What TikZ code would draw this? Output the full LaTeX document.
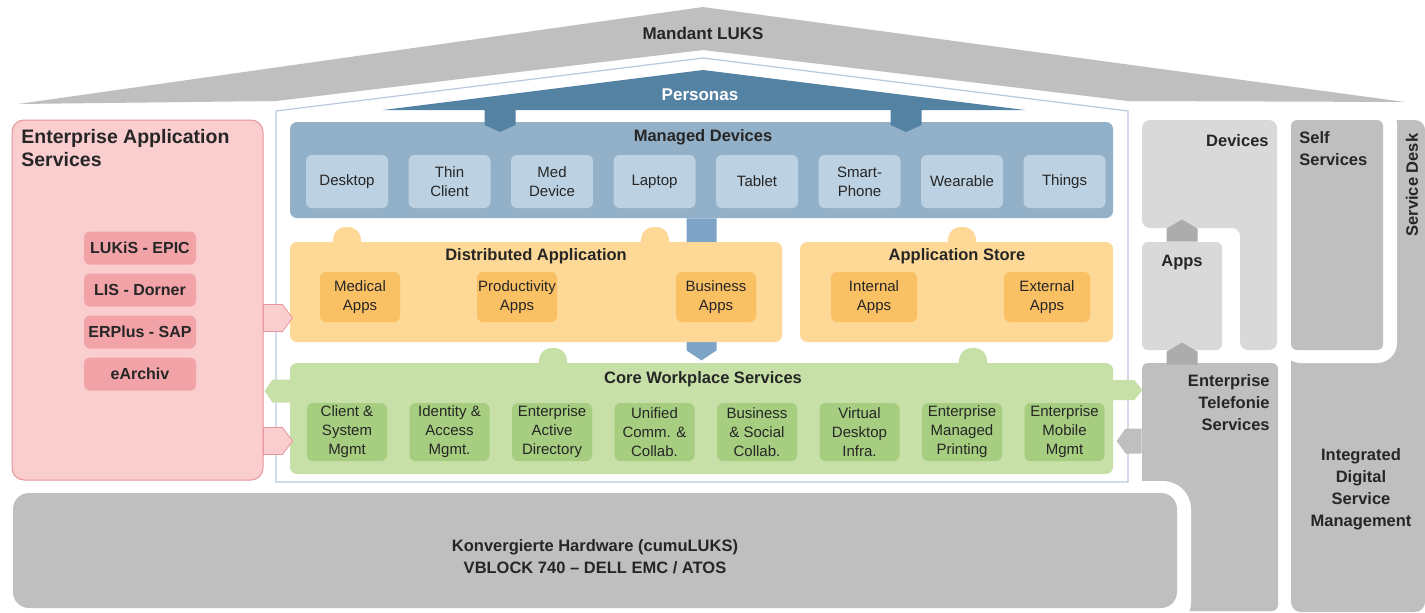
\documentclass[tikz,border=0pt]{standalone}
\usepackage{fontspec}
\setmainfont{Liberation Sans}
\usetikzlibrary{positioning}

\definecolor{ink}{RGB}{38,38,38}
\definecolor{roofgrey}{RGB}{191,191,191}
\definecolor{persblue}{RGB}{84,130,163}
\definecolor{mdfill}{RGB}{146,176,199}
\definecolor{devfill}{RGB}{188,209,225}
\definecolor{stemblue}{RGB}{125,163,198}
\definecolor{dafill}{RGB}{253,216,150}
\definecolor{appfill}{RGB}{250,192,100}
\definecolor{cwfill}{RGB}{198,224,168}
\definecolor{corefill}{RGB}{166,205,128}
\definecolor{pinkfill}{RGB}{250,205,207}
\definecolor{pinkline}{RGB}{232,150,156}
\definecolor{pinkitem}{RGB}{241,163,168}
\definecolor{greylight}{RGB}{217,217,217}
\definecolor{greymid}{RGB}{191,191,191}
\definecolor{arrowgrey}{RGB}{172,172,172}
\definecolor{frameline}{RGB}{185,200,222}

\begin{document}
\begin{tikzpicture}[
        x = 0.5pt, y = -0.5pt, % one unit = one pixel of the sketch
        node distance = 51.25pt, % distance between box centres
        every node/.style = {inner sep = 0pt, text = ink, align = center},
        small/.style = {font = \fontsize{7.5}{9.5}\selectfont},
        head/.style = {font = \bfseries\fontsize{8.25}{11}\selectfont},
        panel/.style = {rounded corners = 3.5pt, minimum height = 50pt},
        subbox/.style = {small, rounded corners = 3pt, minimum width = 40pt}
    ]

    \tikzstyle{devbox}=[subbox, fill = devfill, minimum width = 41pt, minimum height = 26.5pt]
    \tikzstyle{appbox}=[subbox, fill = appfill, minimum height = 25pt]
    \tikzstyle{corebox}=[subbox, fill = corefill, minimum height = 29pt]
    \tikzstyle{easitem}=[fill = pinkitem, rounded corners = 3pt, minimum width = 56pt,
        minimum height = 16.5pt, font = \bfseries\fontsize{8}{10}\selectfont]
    \tikzstyle{greybox}=[rounded corners = 3pt]

    \useasboundingbox (0,0) rectangle (1425,612);
    \fill[white] (0,0) rectangle (1425,612);

    % service desk, self services
    \fill[greymid, rounded corners = 5pt] (1291,612) -- (1291,120) -- (1425,120) -- (1425,612) -- cycle;
    \fill[white, rounded corners = 10pt] (1281,104) rectangle (1397,363);
    \node[greybox, fill = greymid, minimum width = 46pt, minimum height = 115pt] (selfserv) at (1337,235) {};
    \node[head, anchor = north west, align = left] (selftext) at (1299,131) {Self\\Services};
    \node[head, rotate = 90] (servicedesk) at (1412,185) {Service Desk};
    \node[head] (idsm) at (1361,489) {Integrated\\Digital\\Service\\Management};

    % roof
    \fill[roofgrey] (18,104) -- (703,7) -- (1405,102) -- (1128,101) -- (703,50) -- (276,101) -- cycle;
    \node[head, font = \bfseries\fontsize{8.5}{10}\selectfont] (mandant) at (703,33) {Mandant LUKS};

    % telefonie and hardware
    \node[greybox, fill = greymid, minimum width = 68pt, minimum height = 124pt] (telefonie) at (1210,487) {};
    \node[head, anchor = north east, align = right] (teltext) at (1270,374) {Enterprise\\Telefonie\\Services};
    \fill[white, rounded corners = 14pt] (-10,481) rectangle (1191,630);
    \node[panel, fill = greymid, rounded corners = 8pt, minimum width = 582pt, minimum height = 57.5pt] (hardware) at (595,550.5) {};
    \node[head] (hwtext) at (595,557) {Konvergierte Hardware (cumuLUKS)\\VBLOCK 740 -- DELL EMC / ATOS};

    % devices and apps
    \fill[greylight, rounded corners = 4pt] (1142,120) -- (1277,120) -- (1277,350) -- (1240,350) -- (1240,228) -- (1142,228) -- cycle;
    \node[head, anchor = east] (devices) at (1269,141) {Devices};
    \node[greybox, fill = greylight, minimum width = 40pt, minimum height = 54pt] (apps) at (1182,296) {};
    \node[head] (appstext) at (1182,263) {Apps};
    \fill[arrowgrey] (apps.north) ++(-15.5,0) -- ++(0,-13) -- ++(15.5,-9) -- ++(15.5,9) -- ++(0,13) -- cycle;
    \fill[arrowgrey] (apps.south |- telefonie.north) ++(-15.5,2) -- ++(0,-13) -- ++(15.5,-9) -- ++(15.5,9) -- ++(0,13) -- cycle;

    % house frame
    \filldraw[fill = white, draw = frameline, line width = 0.6pt] (276,482) -- (276,111) -- (703,58) -- (1128,111) -- (1128,482) -- cycle;

    % personas
    \fill[persblue] (383,110) -- (703,70) -- (1025,110) -- cycle;
    \node[head, text = white, font = \bfseries\fontsize{8.5}{10}\selectfont] (personas) at (700,95) {Personas};

    % managed devices
    \node[panel, fill = mdfill, minimum width = 411.5pt, minimum height = 48pt] (managed) at (701.5,170) {};
    \fill[stemblue] (managed.south) ++(-15,0) -- ++(30,0) -- ++(0,132) -- ++(-15,10) -- ++(-15,-10) -- cycle;
    \fill[persblue] (484.5,108) -- (515.5,108) -- (515.5,125) -- (500,132) -- (484.5,125) -- cycle;
    \fill[persblue] (890.5,108) -- (921.5,108) -- (921.5,125) -- (906,132) -- (890.5,125) -- cycle;
    \node[head] (mdtitle) at (703,137) {Managed Devices};
    \node[devbox] (desktop) at (347,181.5) {Desktop};
    \node[devbox, right of = desktop] (thinclient) {Thin\\Client};
    \node[devbox, right of = thinclient] (meddevice) {Med\\Device};
    \node[devbox, right of = meddevice] (laptop) {Laptop};
    \node[devbox, right of = laptop] (tablet) {Tablet};
    \node[devbox, right of = tablet] (smartphone) {Smart-\\Phone};
    \node[devbox, right of = smartphone] (wearable) {Wearable};
    \node[devbox, right of = wearable] (things) {Things};

    % distributed application, application store
    \fill[dafill, rounded corners = 2pt] (347,246) ++(-15,0) -- ++(2,-13) -- ++(7,-6) -- ++(12,0) -- ++(7,6) -- ++(2,13) -- cycle;
    \fill[dafill, rounded corners = 2pt] (655,246) ++(-15,0) -- ++(2,-13) -- ++(7,-6) -- ++(12,0) -- ++(7,6) -- ++(2,13) -- cycle;
    \fill[dafill, rounded corners = 2pt] (962,246) ++(-15,0) -- ++(2,-13) -- ++(7,-6) -- ++(12,0) -- ++(7,6) -- ++(2,13) -- cycle;
    \node[panel, fill = dafill, minimum width = 246pt] (distapp) at (536,292) {};
    \node[panel, fill = dafill, minimum width = 156.5pt] (appstore) at (956.5,292) {};
    \node[head] (datitle) at (536,256) {Distributed Application};
    \node[head] (astitle) at (957,256) {Application Store};
    \node[appbox] (medical) at (360,297) {Medical\\Apps};
    \node[appbox] (productivity) at (517,297) {Productivity\\Apps};
    \node[appbox] (business) at (716,297) {Business\\Apps};
    \node[appbox, minimum width = 43pt] (internal) at (874,297) {Internal\\Apps};
    \node[appbox, minimum width = 43pt] (external) at (1047,297) {External\\Apps};

    % core workplace services
    \fill[cwfill, rounded corners = 2pt] (553,367) ++(-15,0) -- ++(2,-13) -- ++(7,-6) -- ++(12,0) -- ++(7,6) -- ++(2,13) -- cycle;
    \fill[cwfill, rounded corners = 2pt] (973,367) ++(-15,0) -- ++(2,-13) -- ++(7,-6) -- ++(12,0) -- ++(7,6) -- ++(2,13) -- cycle;
    \node[panel, fill = cwfill, minimum width = 411.5pt, minimum height = 55.5pt] (core) at (701.5,418.5) {};
    \fill[cwfill] ([yshift = 13.75pt]core.west) ++(4,-11.5) -- ++(-21,0) -- ++(-8,11.5) -- ++(8,11.5) -- ++(21,0) -- cycle;
    \fill[cwfill] ([yshift = 14.25pt]core.east) ++(-4,-10) -- ++(25,0) -- ++(8,10) -- ++(-8,10) -- ++(-25,0) -- cycle;
    \node[head] (cwtitle) at (703,379) {Core Workplace Services};
    \node[corebox] (clientmgmt) at (347,432) {Client \&\\System\\Mgmt};
    \node[corebox, right of = clientmgmt] (identity) {Identity \&\\Access\\Mgmt.};
    \node[corebox, right of = identity] (activedir) {Enterprise\\Active\\Directory};
    \node[corebox, right of = activedir] (unified) {Unified\\Comm. \&\\Collab.};
    \node[corebox, right of = unified] (social) {Business\\\& Social\\Collab.};
    \node[corebox, right of = social] (vdi) {Virtual\\Desktop\\Infra.};
    \node[corebox, right of = vdi] (printing) {Enterprise\\Managed\\Printing};
    \node[corebox, right of = printing] (mobile) {Enterprise\\Mobile\\Mgmt};
    \fill[greymid] ([yshift = 23pt]telefonie.west) ++(0,-12.5) -- ++(-16,0) -- ++(-9,12.5) -- ++(9,12.5) -- ++(16,0) -- cycle;

    % enterprise application services
    \node[fill = pinkfill, draw = pinkline, line width = 0.5pt, rounded corners = 6pt,
        minimum width = 125.5pt, minimum height = 180pt] (eas) at (137.5,300) {};
    \node[anchor = north west, align = left, font = \bfseries\fontsize{9.75}{11.5}\selectfont] (eastitle) at (21,129) {Enterprise Application\\Services};
    \node[easitem] (lukis) at (140,248) {LUKiS - EPIC};
    \node[easitem, below of = lukis, node distance = 21pt] (lis) {LIS - Dorner};
    \node[easitem, below of = lis, node distance = 21pt] (erplus) {ERPlus - SAP};
    \node[easitem, below of = erplus, node distance = 21pt] (earchiv) {eArchiv};
    \filldraw[fill = pinkfill, draw = pinkline, line width = 0.4pt] ([yshift = -9pt]eas.east) ++(0,-13.5) -- ++(19,0) -- ++(10,13.5) -- ++(-10,13.5) -- ++(-19,0) -- cycle;
    \filldraw[fill = pinkfill, draw = pinkline, line width = 0.4pt] ([yshift = -70.5pt]eas.east) ++(0,-13.5) -- ++(19,0) -- ++(10,13.5) -- ++(-10,13.5) -- ++(-19,0) -- cycle;

\end{tikzpicture}
\end{document}
